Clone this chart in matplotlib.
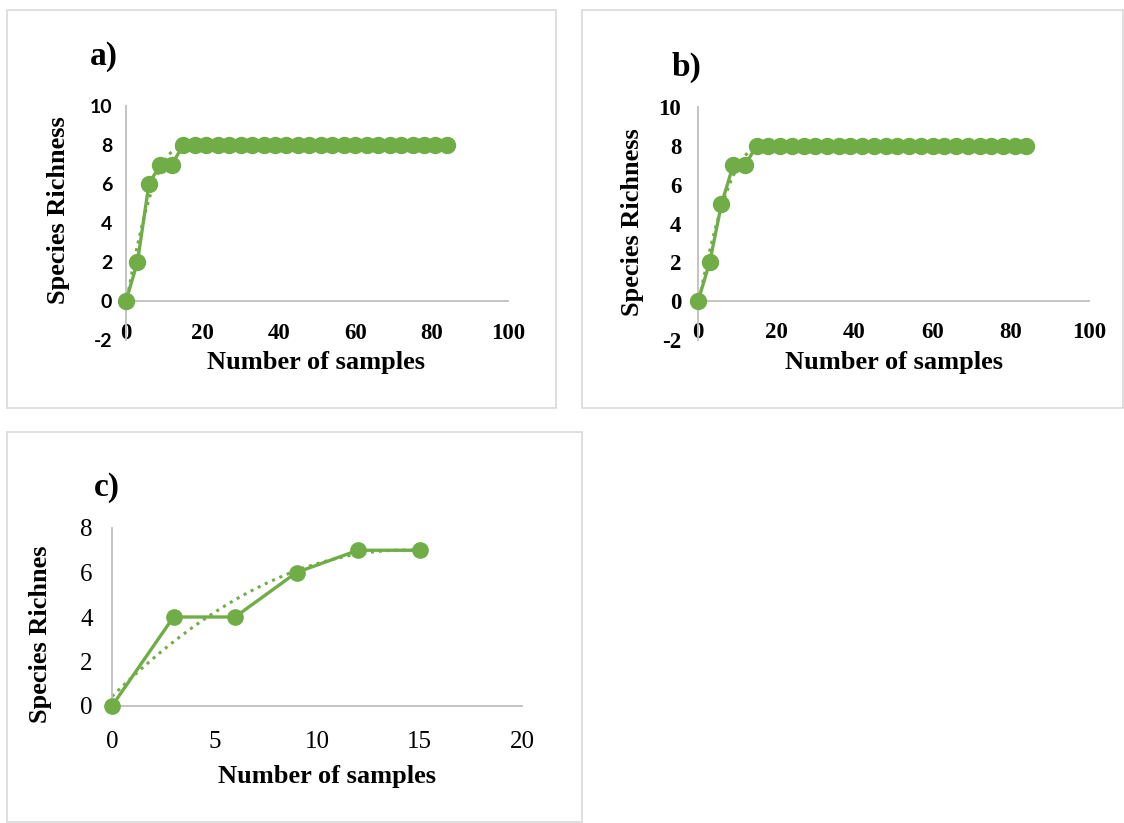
import numpy as np
import matplotlib.pyplot as plt
from matplotlib.patches import Rectangle
from matplotlib.font_manager import FontProperties

# data
x_ab = list(range(0, 85, 3))
y_a = [0, 2, 6, 7, 7] + [8] * 24
y_b = [0, 2, 5, 7, 7] + [8] * 24
x_c = [0, 3, 6, 9, 12, 15]
y_c = [0, 4, 4, 6, 7, 7]

GREEN = '#70AD47'
GRID = '#BFBFBF'
SERIF = 'Liberation Serif'

W, H = 1124, 823

plt.rcParams['axes.unicode_minus'] = False


def px_axes(l, t, r, b):
	return [l / W, 1 - b / H, (r - l) / W, (b - t) / H]


def fx(x):
	return x / W


def fy(y):
	return 1 - y / H


def style_axes(ax, xlim, ylim, xticks, yticks, xpad, ypad, yfont, xfont):
	for s in ['top', 'right']:
		ax.spines[s].set_visible(False)
	# moving the spine resets the axis, so do it before the ticks
	ax.spines['bottom'].set_position(('data', 0))
	for s in ['left', 'bottom']:
		ax.spines[s].set_color(GRID)
		ax.spines[s].set_linewidth(1.3)
	ax.set_xlim(*xlim)
	ax.set_ylim(*ylim)
	ax.set_xticks(list(xticks), [str(v) for v in xticks], fontproperties=xfont)
	ax.set_yticks(list(yticks), [str(v) for v in yticks], fontproperties=yfont)
	ax.tick_params(axis='both', length=0)
	ax.tick_params(axis='x', pad=xpad)
	ax.tick_params(axis='y', pad=ypad)
	ax.patch.set_alpha(0)


def trend(ax, x, y, n):
	x = np.array(x[:n], float)
	y = np.array(y[:n], float)
	c = np.polyfit(x, y, 2)
	xs = np.linspace(x[0], x[-1], 100)
	ax.plot(xs, np.polyval(c, xs), ls=(0, (1, 1.6)), color=GREEN, lw=2.2, zorder=2,
		clip_on=False)


fig = plt.figure(figsize=(W / 100, H / 100), dpi=100)

# panel frames
for l, t, r, b in [(7, 10, 556, 408), (582, 10, 1123, 408), (7, 432, 582, 822)]:
	fig.patches.append(Rectangle((fx(l), fy(b)), (r - l) / W, (b - t) / H,
		transform=fig.transFigure, fill=False, edgecolor='#D9D9D9', lw=1.2))

bold_serif = {'family': SERIF, 'weight': 'bold'}
fp_bserif = FontProperties(family=SERIF, weight='bold', size=16.5)
fp_bsans = FontProperties(family='Lato', weight='bold', size=14)
fp_serif = FontProperties(family=SERIF, size=18)

# a)
ax = fig.add_axes(px_axes(126, 106, 508, 340))
ax.plot(x_ab, y_a, color=GREEN, lw=2.4, marker='o', ms=11.5, zorder=3, clip_on=False)
trend(ax, x_ab, y_a, 6)
style_axes(ax, (0, 100), (-2, 10), range(0, 101, 20), range(-2, 11, 2), 16, 10,
	fp_bsans, fp_bserif)
fig.text(fx(58), fy(210), 'Species Richness', rotation=90, ha='center', va='center',
	fontsize=19, **bold_serif)
fig.text(fx(316), fy(362), 'Number of samples', ha='center', va='center', fontsize=19, **bold_serif)
fig.text(fx(104), fy(57), 'a)', ha='center', va='center', fontsize=24, **bold_serif)

# b)
ax = fig.add_axes(px_axes(698, 107, 1089, 340))
ax.plot(x_ab, y_b, color=GREEN, lw=2.4, marker='o', ms=11.5, zorder=3, clip_on=False)
trend(ax, x_ab, y_b, 6)
style_axes(ax, (0, 100), (-2, 10), range(0, 101, 20), range(-2, 11, 2), 15, 12,
	fp_bserif, fp_bserif)
fig.text(fx(633), fy(222), 'Species Richness', rotation=90, ha='center', va='center',
	fontsize=19, **bold_serif)
fig.text(fx(894), fy(362), 'Number of samples', ha='center', va='center', fontsize=19, **bold_serif)
fig.text(fx(686), fy(67), 'b)', ha='center', va='center', fontsize=24, **bold_serif)

# c)
ax = fig.add_axes(px_axes(112, 528, 522, 706))
ax.plot(x_c, y_c, color=GREEN, lw=2.4, marker='o', ms=11, zorder=3, clip_on=False)
trend(ax, x_c, y_c, 6)
style_axes(ax, (0, 20), (0, 8), range(0, 21, 5), range(0, 9, 2), 18, 14,
	fp_serif, fp_serif)
fig.text(fx(40), fy(634), 'Species Richnes', rotation=90, ha='center', va='center',
	fontsize=19, **bold_serif)
fig.text(fx(327), fy(777), 'Number of samples', ha='center', va='center', fontsize=19, **bold_serif)
fig.text(fx(107), fy(487), 'c)', ha='center', va='center', fontsize=24, **bold_serif)

fig.savefig('out.png', dpi=100)
